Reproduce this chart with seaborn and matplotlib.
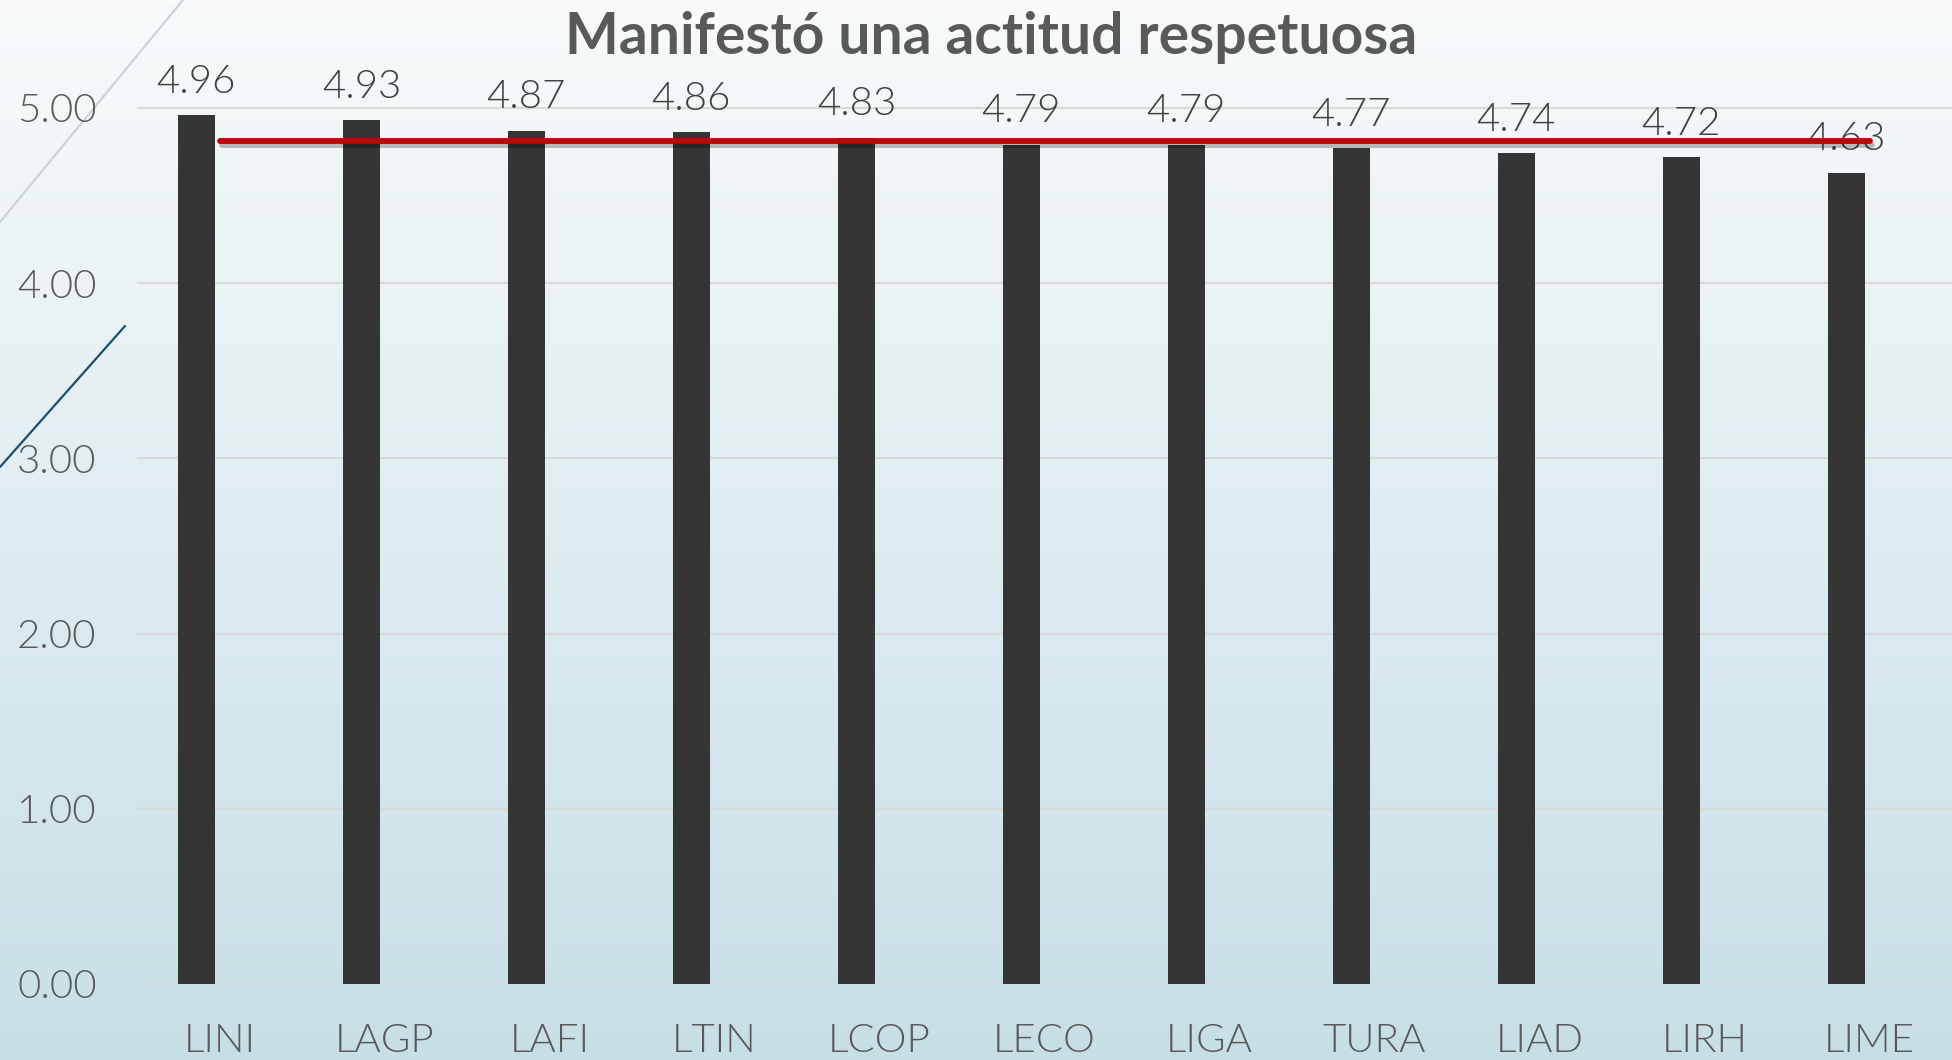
import numpy as np
import pandas as pd
import matplotlib
matplotlib.use("Agg")
import matplotlib.pyplot as plt
import matplotlib.patheffects as pe
from matplotlib.lines import Line2D
import seaborn as sns

# ---- data ----
carreras = ["LINI", "LAGP", "LAFI", "LTIN", "LCOP", "LECO", "LIGA", "TURA", "LIAD", "LIRH", "LIME"]
valores = [4.96, 4.93, 4.87, 4.86, 4.83, 4.79, 4.79, 4.77, 4.74, 4.72, 4.63]
promedio = [4.81] * len(carreras)
y_ticks = [0, 1, 2, 3, 4, 5]
titulo = "Manifestó una actitud respetuosa"

sns.set_theme(style="white")
plt.rcParams["font.family"] = ["Lato", "DejaVu Sans"]

W, H = 1952, 1060
fig = plt.figure(figsize=(W / 100, H / 100), dpi=100)

# background gradient
bg = fig.add_axes([0, 0, 1, 1], zorder=0)
top = np.array([248, 250, 251]) / 255
bot = np.array([198, 223, 229]) / 255
t = np.linspace(0, 1, 256)[:, None]
grad = (top[None, :] * (1 - t) + bot[None, :] * t)[:, None, :]
bg.imshow(grad, aspect="auto", extent=[0, 1, 0, 1])
bg.set_axis_off()

# decorative slide lines
fig.add_artist(Line2D([0, 183 / W], [1 - 222 / H, 1.0], transform=fig.transFigure,
                      color="#c9d4da", lw=1.6, zorder=0.5))
fig.add_artist(Line2D([0, 125 / W], [1 - 467 / H, 1 - 326 / H], transform=fig.transFigure,
                      color="#1d4e6b", lw=1.6, zorder=0.5))

ax = fig.add_axes([137 / W, 76 / H, 1 - 137 / W, (984 - 29) / H], zorder=1)
ax.patch.set_alpha(0)

df = pd.DataFrame({
    "carrera": carreras * 2,
    "valor": valores + [0.0] * len(carreras),
    "serie": ["Promedio"] * len(carreras) + ["vacío"] * len(carreras),
})

sns.barplot(data=df, x="carrera", y="valor", hue="serie", hue_order=["Promedio", "vacío"],
            palette={"Promedio": "#353535", "vacío": (0, 0, 0, 0)},
            width=0.56, gap=0.2, dodge=True, linewidth=0, legend=False, ax=ax, zorder=2)

ax.bar_label(ax.containers[0], fmt="%.2f", padding=11, fontsize=29, color="#404040",
             fontweight=300)

sns.lineplot(x=np.arange(len(carreras)), y=promedio, ax=ax, color="#c00000", lw=4.2,
             solid_capstyle="round", zorder=3,
             path_effects=[pe.SimpleLineShadow(offset=(1.5, -3), alpha=0.25, shadow_color="#000000"),
                           pe.Normal()])

ax.set_xlim(-0.5, len(carreras) - 0.5)
ax.set_ylim(0, 5.45)
ax.set_yticks(y_ticks)
ax.set_yticklabels([f"{v:.2f}" for v in y_ticks])
ax.set_xlabel("")
ax.set_ylabel("")
ax.yaxis.grid(True, color="#d9d9d9", lw=1.5, zorder=0)
ax.set_axisbelow(True)
for s in ax.spines.values():
    s.set_visible(False)
ax.tick_params(axis="y", length=0, pad=29, labelsize=29, labelcolor="#595959")
ax.tick_params(axis="x", length=0, pad=28, labelsize=29, labelcolor="#595959")
for lab in ax.get_xticklabels() + ax.get_yticklabels():
    lab.set_fontweight(300)

fig.text(0.508, 1 - 37 / H, titulo, ha="center", va="center", fontsize=41,
         fontweight="bold", color="#595959")

fig.savefig("out.png", dpi=100)
